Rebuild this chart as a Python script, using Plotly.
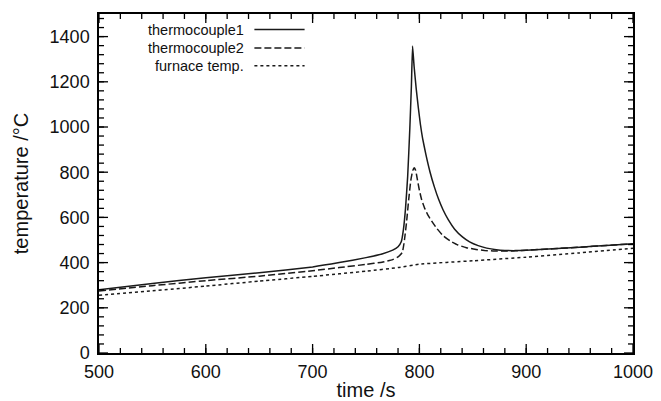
import plotly.graph_objects as go

# ---- data ----
tc1_time = [500, 550, 600, 650, 700, 725, 750, 765, 775, 780, 783, 785, 787, 789, 791, 792.5, 793.6,
            795, 797, 799, 801, 803, 806, 810, 814, 818, 822, 827, 833, 840, 847, 855, 863, 872,
            880, 890, 900, 925, 950, 975, 1000]
tc1_temp = [280, 308, 333, 355, 381, 400, 422, 438, 455, 470, 492, 545, 640, 780, 990, 1180, 1358,
            1270, 1170, 1085, 1010, 950, 880, 800, 735, 680, 635, 590, 548, 515, 492, 475, 464, 457,
            454, 453, 455, 461, 468, 476, 483]

tc2_time = [500, 550, 600, 650, 700, 725, 750, 765, 775, 780, 784, 786, 788, 790, 792, 793.8, 795.2,
            796.5, 798, 800, 802, 805, 808, 812, 816, 822, 829, 836, 844, 852, 861, 870, 880, 890, 900,
            925, 950, 975, 1000]
tc2_temp = [274, 298, 320, 340, 364, 378, 392, 402, 413, 425, 445, 500, 580, 680, 765, 808, 820,
            808, 770, 720, 680, 640, 610, 580, 553, 520, 495, 478, 466, 459, 454, 451, 451, 452, 455,
            461, 468, 476, 483]

furn_time = [500, 550, 600, 650, 700, 750, 780, 800, 850, 900, 950, 1000]
furn_temp = [255, 275, 296, 318, 339, 362, 378, 393, 408, 424, 443, 463]

series_names = ["thermocouple1", "thermocouple2", "furnace temp."]
x_ticks = [500, 600, 700, 800, 900, 1000]
y_ticks = [0, 200, 400, 600, 800, 1000, 1200, 1400]
x_range = [500, 1000]
y_range = [0, 1500]
x_minor = list(range(520, 1000, 20))
y_minor = list(range(40, 1500, 40))

W, H = 661, 401
M = dict(l=99, r=28, t=14, b=48)
LINE = "#1a1a1a"
FONT = "Liberation Sans, Arial, sans-serif"
dashes = ["solid", "7px,3px", "3px,3px"]

fig = go.Figure()
for name, t, v, d in zip(series_names, [tc1_time, tc2_time, furn_time],
                         [tc1_temp, tc2_temp, furn_temp], dashes):
    fig.add_trace(go.Scatter(x=t, y=v, mode="lines", name=name, showlegend=False,
                             line=dict(color=LINE, width=1.5, dash=d, shape="spline", smoothing=0.4)))

# inward tick marks on all four sides, built as one line trace in axis units
x_per_px = (x_range[1] - x_range[0]) / (W - M["l"] - M["r"])
y_per_px = (y_range[1] - y_range[0]) / (H - M["t"] - M["b"])
tx, ty = [], []
for vals, length in [(x_ticks, 9), (x_minor, 5)]:
    dy = length * y_per_px
    for v in vals:
        tx += [v, v, None, v, v, None]
        ty += [y_range[0], y_range[0] + dy, None, y_range[1], y_range[1] - dy, None]
for vals, length in [(y_ticks, 9), (y_minor, 5)]:
    dx = length * x_per_px
    for v in vals:
        tx += [x_range[0], x_range[0] + dx, None, x_range[1], x_range[1] - dx, None]
        ty += [v, v, None, v, v, None]
fig.add_trace(go.Scatter(x=tx, y=ty, mode="lines", showlegend=False, hoverinfo="skip",
                         connectgaps=False, line=dict(color="#000", width=1.3)))

# manual legend: text right-aligned, line sample to the right
leg_y = [0.954, 0.900, 0.847]
for name, d, yy in zip(series_names, dashes, leg_y):
    fig.add_annotation(x=0.275, y=yy, xref="paper", yref="paper", text=name,
                       showarrow=False, xanchor="right", yanchor="middle",
                       font=dict(family=FONT, size=14.5, color="#111"))
    fig.add_shape(type="line", xref="paper", yref="paper", x0=0.291, x1=0.385,
                  y0=yy, y1=yy, line=dict(color=LINE, width=1.5, dash=d))

tickfont = dict(family=FONT, size=18, color="#111")
titlefont = dict(family=FONT, size=20, color="#111")

fig.update_layout(
    width=W, height=H, margin=M,
    plot_bgcolor="white", paper_bgcolor="white", showlegend=False,
    xaxis=dict(range=x_range, tickmode="array", tickvals=x_ticks, ticks="",
               showline=True, linecolor="#000", linewidth=1.5, automargin=False,
               mirror=True, showgrid=False, zeroline=False, tickfont=tickfont,
               ticklabelstandoff=2,
               title=dict(text="time /s", font=titlefont, standoff=2)),
    yaxis=dict(range=y_range, tickmode="array", tickvals=y_ticks, ticks="",
               showline=True, linecolor="#000", linewidth=1.5, automargin=False,
               mirror=True, showgrid=False, zeroline=False, tickfont=tickfont,
               ticklabelstandoff=4,
               title=dict(text="temperature /°C", font=titlefont, standoff=16)),
)

fig.write_html("out.html")
